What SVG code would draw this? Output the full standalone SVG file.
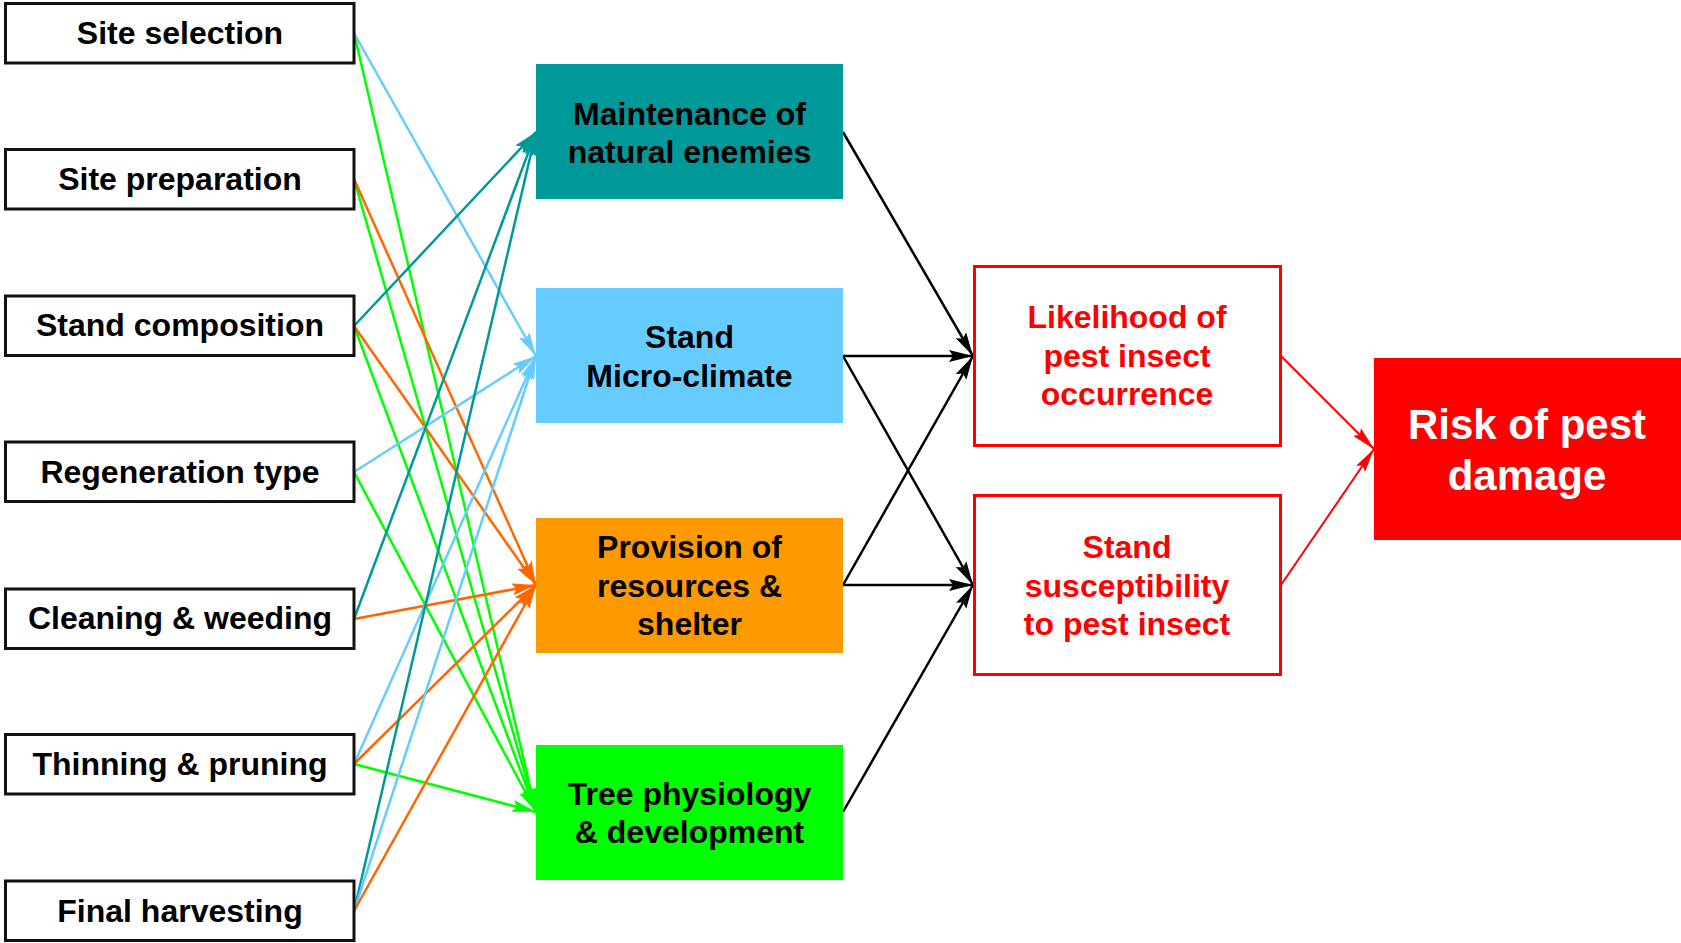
<svg xmlns="http://www.w3.org/2000/svg" width="1681" height="943" viewBox="0 0 1681 943">
<style>
text{font-family:"Liberation Sans",Arial,sans-serif;font-weight:bold;text-anchor:middle}
.lb{fill:#fff;stroke:#111;stroke-width:3}
.lt{font-size:32px;fill:#000}
.mt{font-size:32px;fill:#000}
.rb{fill:#fff;stroke:#ff0000;stroke-width:3}
.rt{font-size:32px;fill:#ff0000}
.wt{font-size:42px;fill:#fff}
.c{fill:none;stroke-width:2.5}
.teal{stroke:#009999;marker-end:url(#aTeal)}
.blue{stroke:#66ccff;marker-end:url(#aBlue)}
.orng{stroke:#ff6600;marker-end:url(#aOrng)}
.grn{stroke:#00ff00;marker-end:url(#aGrn)}
.blk{stroke:#000;marker-end:url(#aBlk)}
.red{stroke:#ff0000;stroke-width:2;marker-end:url(#aRed)}
</style>
<defs>
<marker id="aTeal" viewBox="0 0 24 12" refX="24" refY="6" markerWidth="24" markerHeight="12" markerUnits="userSpaceOnUse" orient="auto"><path d="M0,0 L24,6 L0,12 L4,6 z" fill="#009999"/></marker>
<marker id="aBlue" viewBox="0 0 24 12" refX="24" refY="6" markerWidth="24" markerHeight="12" markerUnits="userSpaceOnUse" orient="auto"><path d="M0,0 L24,6 L0,12 L4,6 z" fill="#66ccff"/></marker>
<marker id="aOrng" viewBox="0 0 24 12" refX="24" refY="6" markerWidth="24" markerHeight="12" markerUnits="userSpaceOnUse" orient="auto"><path d="M0,0 L24,6 L0,12 L4,6 z" fill="#ff6600"/></marker>
<marker id="aGrn" viewBox="0 0 24 12" refX="24" refY="6" markerWidth="24" markerHeight="12" markerUnits="userSpaceOnUse" orient="auto"><path d="M0,0 L24,6 L0,12 L4,6 z" fill="#00ff00"/></marker>
<marker id="aBlk" viewBox="0 0 24 12" refX="24" refY="6" markerWidth="24" markerHeight="12" markerUnits="userSpaceOnUse" orient="auto"><path d="M0,0 L24,6 L0,12 L4,6 z" fill="#000"/></marker>
<marker id="aRed" viewBox="0 0 24 11" refX="24" refY="5.5" markerWidth="24" markerHeight="11" markerUnits="userSpaceOnUse" orient="auto"><path d="M0,0 L24,5.5 L0,11 L4,5.5 z" fill="#ff0000"/></marker>
</defs>
<rect width="1681" height="943" fill="#fff"/>

<g id="connectors">
<line class="c grn" x1="354" y1="33" x2="536" y2="812"/>
<line class="c blue" x1="354" y1="33" x2="536" y2="356"/>
<line class="c grn" x1="354" y1="179" x2="536" y2="812"/>
<line class="c orng" x1="354" y1="179" x2="536" y2="585"/>
<line class="c grn" x1="354" y1="326" x2="536" y2="812"/>
<line class="c orng" x1="354" y1="326" x2="536" y2="585"/>
<line class="c teal" x1="354" y1="326" x2="536" y2="132"/>
<line class="c grn" x1="354" y1="472" x2="536" y2="812"/>
<line class="c blue" x1="354" y1="472" x2="536" y2="356"/>
<line class="c teal" x1="354" y1="619" x2="536" y2="132"/>
<line class="c orng" x1="354" y1="619" x2="536" y2="585"/>
<line class="c grn" x1="354" y1="764" x2="536" y2="812"/>
<line class="c blue" x1="354" y1="764" x2="536" y2="356"/>
<line class="c orng" x1="354" y1="764" x2="536" y2="585"/>
<line class="c teal" x1="354" y1="911" x2="536" y2="132"/>
<line class="c blue" x1="354" y1="911" x2="536" y2="356"/>
<line class="c orng" x1="354" y1="911" x2="536" y2="585"/>
<line class="c blk" x1="843" y1="132" x2="973" y2="356"/>
<line class="c blk" x1="843" y1="356" x2="973" y2="356"/>
<line class="c blk" x1="843" y1="356" x2="973" y2="585"/>
<line class="c blk" x1="843" y1="585" x2="973" y2="356"/>
<line class="c blk" x1="843" y1="585" x2="973" y2="585"/>
<line class="c blk" x1="843" y1="812" x2="973" y2="585"/>
<line class="c red" x1="1281" y1="356" x2="1374" y2="449"/>
<line class="c red" x1="1281" y1="585" x2="1374" y2="449"/>
</g>

<g id="site-selection"><rect class="lb" x="5.5" y="3.5" width="348.5" height="59.5"/><text class="lt" x="180" y="44">Site selection</text></g>
<g id="site-preparation"><rect class="lb" x="5.5" y="149.5" width="348.5" height="59.5"/><text class="lt" x="180" y="190">Site preparation</text></g>
<g id="stand-composition"><rect class="lb" x="5.5" y="296" width="348.5" height="59.5"/><text class="lt" x="180" y="336">Stand composition</text></g>
<g id="regeneration-type"><rect class="lb" x="5.5" y="442" width="348.5" height="59.5"/><text class="lt" x="180" y="483">Regeneration type</text></g>
<g id="cleaning-weeding"><rect class="lb" x="5.5" y="589" width="348.5" height="59.5"/><text class="lt" x="180" y="629">Cleaning &amp; weeding</text></g>
<g id="thinning-pruning"><rect class="lb" x="5.5" y="734.5" width="348.5" height="59.5"/><text class="lt" x="180" y="775">Thinning &amp; pruning</text></g>
<g id="final-harvesting"><rect class="lb" x="5.5" y="881" width="348.5" height="59.5"/><text class="lt" x="180" y="922">Final harvesting</text></g>

<g id="maintenance"><rect x="536" y="64" width="307" height="135" fill="#009999"/><text class="mt" x="689.5" y="125">Maintenance of</text><text class="mt" x="689.5" y="163">natural enemies</text></g>
<g id="microclimate"><rect x="536" y="288" width="307" height="135" fill="#66ccff"/><text class="mt" x="689.5" y="348">Stand</text><text class="mt" x="689.5" y="387">Micro-climate</text></g>
<g id="provision"><rect x="536" y="518" width="307" height="135" fill="#ff9900"/><text class="mt" x="689.5" y="558">Provision of</text><text class="mt" x="689.5" y="597">resources &amp;</text><text class="mt" x="689.5" y="635">shelter</text></g>
<g id="tree-physiology"><rect x="536" y="745" width="307" height="135" fill="#00ff00"/><text class="mt" x="689.5" y="805">Tree physiology</text><text class="mt" x="689.5" y="843">&amp; development</text></g>

<g id="likelihood"><rect class="rb" x="974.5" y="266.5" width="306" height="179"/><text class="rt" x="1127" y="328">Likelihood of</text><text class="rt" x="1127" y="367">pest insect</text><text class="rt" x="1127" y="405">occurrence</text></g>
<g id="susceptibility"><rect class="rb" x="974.5" y="495.5" width="306" height="179"/><text class="rt" x="1127" y="558">Stand</text><text class="rt" x="1127" y="597">susceptibility</text><text class="rt" x="1127" y="635">to pest insect</text></g>

<g id="risk"><rect x="1374" y="358" width="307" height="182" fill="#ff0000"/><text class="wt" x="1527" y="439">Risk of pest</text><text class="wt" x="1527" y="490">damage</text></g>
</svg>
